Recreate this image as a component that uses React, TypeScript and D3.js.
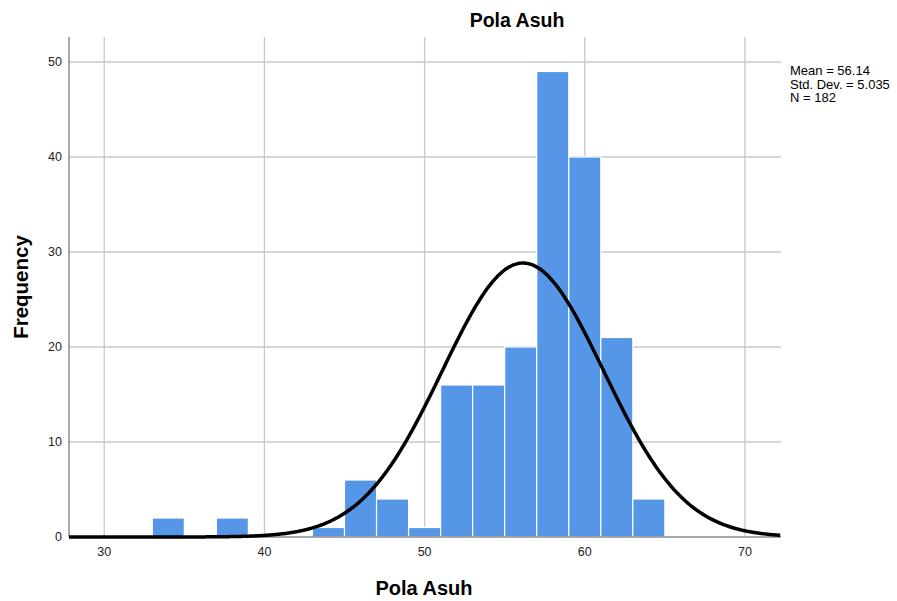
import React from "react";
import * as d3 from "d3";

const binStarts = [33, 37, 43, 45, 47, 49, 51, 53, 55, 57, 59, 61, 63];
const binWidth = 2;
const counts = [2, 2, 1, 6, 4, 1, 16, 16, 20, 49, 40, 21, 4];
const xTicks = [30, 40, 50, 60, 70];
const yTicks = [0, 10, 20, 30, 40, 50];
const stats = { mean: 56.14, sd: 5.035, n: 182 };
const statLabels = ["Mean = 56.14", "Std. Dev. = 5.035", "N = 182"];

const W = 897;
const H = 601;
const left = 69, right = 781, top = 37, bottom = 537;

export default function App() {
  const x = d3.scaleLinear().domain([27.8, 72.25]).range([left, right]);
  const y = d3.scaleLinear().domain([0, 52.63]).range([bottom, top]);
  const font = "Arial, 'Liberation Sans', sans-serif";

  const curvePts: [number, number][] = d3.range(27.8, 72.26, 0.1).map((v) => {
    const z = (v - stats.mean) / stats.sd;
    const dens = (stats.n * binWidth) / (stats.sd * Math.sqrt(2 * Math.PI)) * Math.exp(-0.5 * z * z);
    return [v, dens];
  });
  const line = d3.line<[number, number]>().x((d) => x(d[0])).y((d) => y(d[1])).curve(d3.curveBasis);

  return (
    <svg width={W} height={H} style={{ position: "absolute", left: 0, top: 0, background: "#fff" }}>
      <rect x={0} y={0} width={W} height={H} fill="#fff" />
      {yTicks.filter((t) => t > 0).map((t) => (
        <line key={"gy" + t} x1={left} x2={right} y1={y(t)} y2={y(t)} stroke="#c8c8c8" strokeWidth={1.3} />
      ))}
      {xTicks.map((t) => (
        <line key={"gx" + t} x1={x(t)} x2={x(t)} y1={top} y2={bottom} stroke="#c8c8c8" strokeWidth={1.3} />
      ))}
      {binStarts.map((b, i) => (
        <rect key={"b" + i} x={x(b)} y={y(counts[i])} width={x(b + binWidth) - x(b)} height={bottom - y(counts[i])}
          fill="#5596E6" stroke="#ffffff" strokeWidth={1.2} />
      ))}
      <line x1={left} x2={right} y1={bottom} y2={bottom} stroke="#8c8c8c" strokeWidth={1.5} />
      <line x1={left} x2={left} y1={top} y2={bottom} stroke="#8c8c8c" strokeWidth={1.5} />
      <path d={line(curvePts) || ""} fill="none" stroke="#000" strokeWidth={3.5} />
      {yTicks.map((t) => (
        <text key={"ty" + t} x={left - 7} y={y(t)} dy="0.35em" textAnchor="end" fontFamily={font} fontSize={12.5} fill="#222">{t}</text>
      ))}
      {xTicks.map((t) => (
        <text key={"tx" + t} x={x(t)} y={bottom + 19} textAnchor="middle" fontFamily={font} fontSize={12.5} fill="#222">{t}</text>
      ))}
      <text x={517} y={27} textAnchor="middle" fontFamily={font} fontSize={19.5} fontWeight="bold" fill="#000">Pola Asuh</text>
      <text x={424} y={595} textAnchor="middle" fontFamily={font} fontSize={20} fontWeight="bold" fill="#000">Pola Asuh</text>
      <text transform={`translate(28,${(top + bottom) / 2}) rotate(-90)`} textAnchor="middle" fontFamily={font} fontSize={20.5} fontWeight="bold" fill="#000">Frequency</text>
      {statLabels.map((s, i) => (
        <text key={"s" + i} x={790} y={75 + i * 13.5} fontFamily={font} fontSize={13} fill="#000">{s}</text>
      ))}
    </svg>
  );
}
